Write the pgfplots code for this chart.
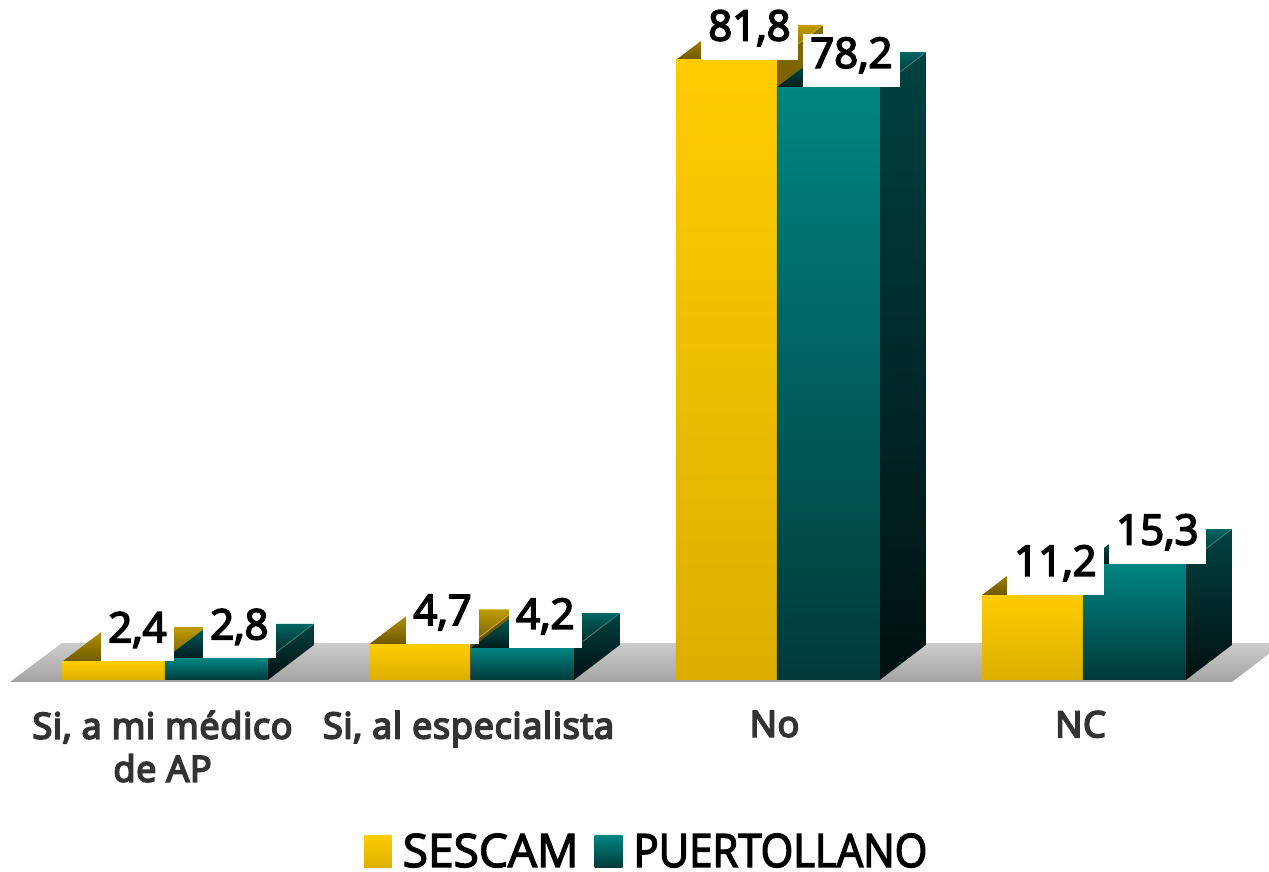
\documentclass[border=0pt]{standalone}
\usepackage{fontspec}
\usepackage{pgfplots}
\usepackage{pgfplotstable}
\pgfplotsset{compat=1.18}
\setmainfont{Open Sans}
\newfontfamily\catfont[FakeBold=5,LetterSpace=2]{Open Sans}
\newfontfamily\valfont[FakeBold=4]{Open Sans}
\newfontfamily\legfont[FakeBold=3]{Open Sans}
\newfontfamily\legfontb[FakeBold=3,FakeStretch=0.91]{Open Sans}

\definecolor{goldF1}{HTML}{FFCC00}
\definecolor{goldF2}{HTML}{DCAF00}
\definecolor{goldT1}{HTML}{C09C00}
\definecolor{goldT2}{HTML}{6E5800}
\definecolor{goldS1}{HTML}{806800}
\definecolor{goldS2}{HTML}{403400}
\definecolor{tealF1}{HTML}{008582}
\definecolor{tealF2}{HTML}{003A39}
\definecolor{tealT1}{HTML}{006662}
\definecolor{tealT2}{HTML}{001C1C}
\definecolor{tealS1}{HTML}{004241}
\definecolor{tealS2}{HTML}{001010}

% one px of the reference is 0.5pt here
\pgfplotstableread{
x y
-0.165 2.4
0.832 4.7
1.835 81.8
2.835 11.2
}\sescam
\pgfplotstableread{
x y
0.168 2.8
1.168 4.2
2.168 78.2
3.168 15.3
}\puerto

% one bar: depth 46px across, 35px up; each in its own plot so the shading is per bar
\newcommand{\solid}[5]{% x centre, half width, width, value, colour prefix
  \addplot[forget plot, draw=none, top color=#5T1, bottom color=#5T2] coordinates {
    ({#1-#2},#4) ({#1-#2+0.1503},{#4+4.617}) ({#1+#2+0.1503},{#4+4.617}) ({#1+#2},#4)} --cycle;
  \addplot[forget plot, draw=none, top color=#5S1, bottom color=#5S2] coordinates {
    ({#1+#2},0) ({#1+#2+0.1503},4.617) ({#1+#2+0.1503},{#4+4.617}) ({#1+#2},#4)} --cycle;
  \addplot[forget plot, #5T1!80!white, line width=0.4pt] coordinates {
    ({#1+#2},#4) ({#1+#2+0.1503},{#4+4.617})};
  \addplot[forget plot, ybar, bar width=#3, bar shift=0pt, draw=none, top color=#5F1, bottom color=#5F2] coordinates {(#1,#4)};
}

\begin{document}
\begin{tikzpicture}
\begin{axis}[
  scale only axis, width=634.5pt, height=341pt,
  xmin=-0.539, xmax=3.608, ymin=-0.264, ymax=89.71,
  axis line style={draw=none}, tick style={draw=none},
  ymajorticks=false, xtick={0,1,2,3},
  xticklabels={{Si, a mi médico\\de AP},{Si, al especialista},No,NC},
  xticklabel style={align=center, anchor=north, yshift=-11pt, xshift=-1.2pt, text=black!80,
    font=\catfont\fontsize{18}{21.5}\selectfont},
  /pgf/number format/.cd, use comma, fixed, fixed zerofill, precision=1, assume math mode=true, /pgfplots/.cd,
  every node near coord/.append style={fill=white, anchor=south, xshift=11.5pt, yshift=0pt,
    inner xsep=3.75pt, inner ysep=0pt, text height=17pt, text depth=9.5pt, text=black,
    font=\valfont\fontsize{21}{21}\selectfont},
  legend style={at={(0.5103,-0.249)}, anchor=center, draw=none, fill=none,
    legend columns=2, font=\legfont\fontsize{23}{23}\selectfont,
    /tikz/every odd column/.append style={column sep=3.5pt},
    /tikz/every even column/.append style={column sep=6pt}},
  legend cell align=left,
]
% floor
\addplot[forget plot, draw=none, top color=black!20, bottom color=black!36] coordinates {
  (-0.5065,-0.264) (-0.3366,4.88) (3.654,4.88) (3.487,-0.264)} --cycle;

% SESCAM
\solid{-0.168}{0.1683}{0.3366}{2.4}{gold}
\solid{0.832}{0.165}{0.33}{4.7}{gold}
\solid{1.835}{0.165}{0.33}{81.8}{gold}
\solid{2.835}{0.165}{0.33}{11.2}{gold}

% PUERTOLLANO
\solid{0.168}{0.1683}{0.3366}{2.8}{teal}
\solid{1.168}{0.1683}{0.3366}{4.2}{teal}
\solid{2.168}{0.1683}{0.3366}{78.2}{teal}
\solid{3.168}{0.1683}{0.3366}{15.3}{teal}

% value labels on white boxes
\addplot[forget plot, draw=none, mark=none, nodes near coords] table {\sescam};
\addplot[forget plot, draw=none, mark=none, nodes near coords] table {\puerto};

\addlegendimage{legend image code/.code={\path[draw=none, top color=goldF1, bottom color=goldF2] (0pt,-8pt) rectangle (14pt,8pt);}}
\addlegendentry{SESCAM}
\addlegendimage{legend image code/.code={\path[draw=none, top color=tealF1, bottom color=tealF2] (0pt,-8pt) rectangle (14pt,8pt);}}
\addlegendentry{\legfontb\fontsize{23}{23}\selectfont PUERTOLLANO}
\end{axis}
\pgfresetboundingbox
\path[use as bounding box] (0pt,-95pt) rectangle (634.5pt,341pt);
\end{tikzpicture}
\end{document}
